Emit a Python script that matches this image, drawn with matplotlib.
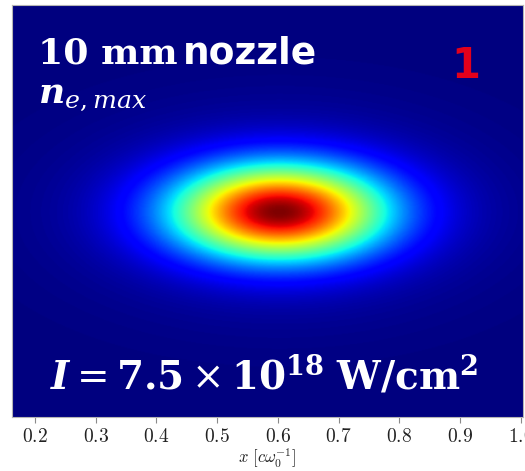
import matplotlib

matplotlib.use("Agg")
import matplotlib.pyplot as plt
import numpy as np
from matplotlib.ticker import FixedLocator, FuncFormatter

# beam spot (x in c/omega0, y in axis fraction)
SPOT_CENTER = (0.603, 0.498)
SPOT_SIGMA = (0.119, 0.078)
SPOT_PEAK = 1.0
HALO_SIGMA = (0.21, 0.15)
HALO_PEAK = 0.10
X_LIMITS = (0.162, 1.004)
Y_LIMITS = (0.0, 1.0)
X_TICKS = [0.2, 0.3, 0.4, 0.5, 0.6, 0.7, 0.8, 0.9, 1.0]

TITLE_SERIF = "10 mm"
TITLE_SANS = "nozzle"
DENSITY_LABEL = r"$\mathbfit{n}_{e,max}$"
INTENSITY_LABEL = r"$\mathbfit{I} = \mathbf{7.5} \times \mathbf{10}^{\mathbf{18}}\ \mathbf{W/cm}^{\mathbf{2}}$"
PANEL_NUMBER = "1"
X_LABEL = r"$x\ [c\omega_0^{-1}]$"

xs = np.linspace(*X_LIMITS, 600)
ys = np.linspace(*Y_LIMITS, 480)
gx, gy = np.meshgrid(xs, ys)
field = SPOT_PEAK * np.exp(-((gx - SPOT_CENTER[0]) ** 2) / (2 * SPOT_SIGMA[0] ** 2) - ((gy - SPOT_CENTER[1]) ** 2) / (2 * SPOT_SIGMA[1] ** 2))
field += HALO_PEAK * np.exp(-((gx - SPOT_CENTER[0]) ** 2) / (2 * HALO_SIGMA[0] ** 2) - ((gy - SPOT_CENTER[1]) ** 2) / (2 * HALO_SIGMA[1] ** 2))

fig = plt.figure(figsize=(5.25, 4.71), dpi=100)
ax = fig.add_axes([12 / 525, 54 / 471, 511 / 525, 412 / 471])
ax.imshow(field, cmap="jet", origin="lower", extent=[*X_LIMITS, *Y_LIMITS], aspect="auto", vmin=0.0, vmax=field.max(), interpolation="bilinear")
ax.set_xlim(*X_LIMITS); ax.set_ylim(*Y_LIMITS)
ax.set_yticks([])
ax.xaxis.set_major_locator(FixedLocator(X_TICKS))
ax.xaxis.set_major_formatter(FuncFormatter(lambda v, _: f"${v:.1f}$"))
ax.tick_params(axis="x", direction="out", length=4.5, width=0.8, color="#8a8a8a", labelsize=14, labelcolor="#222222", pad=2.5)
for lbl in ax.get_xticklabels():
    lbl.set_math_fontfamily("cm")
for side in ax.spines.values():
    side.set_color("#b5b5b5"); side.set_linewidth(0.8)
ax.set_xlabel(X_LABEL, fontsize=12, color="#222222", labelpad=0.5, math_fontfamily="cm")

ax.text(0.051, 0.859, TITLE_SERIF, transform=ax.transAxes, color="white", fontsize=26, fontfamily="DejaVu Serif", fontweight="bold", va="baseline", ha="left")
ax.text(0.335, 0.859, TITLE_SANS, transform=ax.transAxes, color="white", fontsize=27, fontfamily="DejaVu Sans", fontweight="bold", va="baseline", ha="left")
ax.text(0.051, 0.762, DENSITY_LABEL, transform=ax.transAxes, color="white", fontsize=26, math_fontfamily="dejavuserif", va="baseline", ha="left")
ax.text(0.888, 0.823, PANEL_NUMBER, transform=ax.transAxes, color="#e3001b", fontsize=30, fontfamily="DejaVu Sans", fontweight="bold", va="baseline", ha="center")
ax.text(0.493, 0.068, INTENSITY_LABEL, transform=ax.transAxes, color="white", fontsize=28, math_fontfamily="dejavuserif", va="baseline", ha="center")

fig.savefig("out.png", dpi=100)
